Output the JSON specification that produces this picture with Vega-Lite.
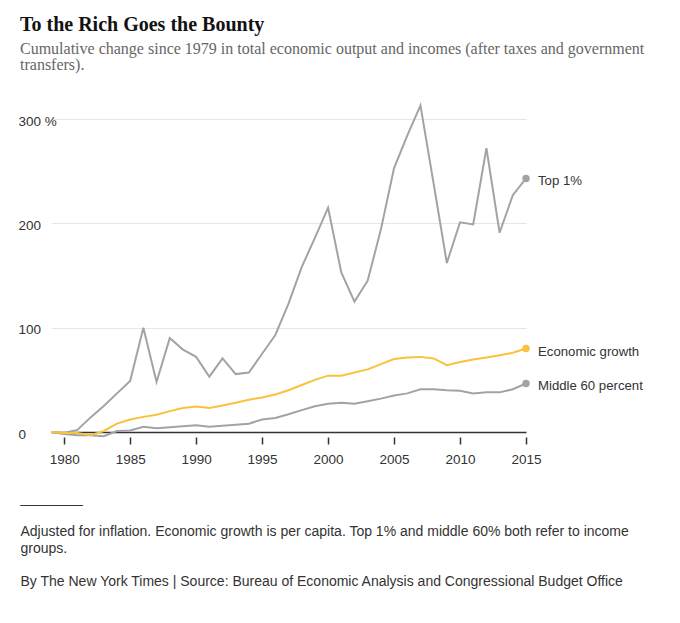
{
  "$schema": "https://vega.github.io/schema/vega-lite/v6.json",
  "width": 475,
  "height": 313,
  "autosize": {"type": "none"},
  "padding": {"left": 51, "top": 119, "right": 154, "bottom": 191},
  "background": "white",
  "title": {
    "text": "To the Rich Goes the Bounty",
    "subtitle": ["Cumulative change since 1979 in total economic output and incomes (after taxes and government", "transfers)."],
    "anchor": "start",
    "frame": "group",
    "dx": -31,
    "offset": 28,
    "font": "Liberation Serif",
    "fontSize": 20,
    "fontWeight": "bold",
    "color": "#121212",
    "subtitleFont": "Liberation Serif",
    "subtitleFontSize": 16,
    "subtitleColor": "#666666",
    "subtitleLineHeight": 16.6,
    "subtitlePadding": 6
  },
  "config": {
    "view": {"stroke": null},
    "text": {"font": "Liberation Sans"}
  },
  "data": {
    "values": [
      {"year": 1979, "Top 1%": 0, "Economic growth": 0, "Middle 60 percent": 0},
      {"year": 1980, "Top 1%": -1, "Economic growth": -1, "Middle 60 percent": -2},
      {"year": 1981, "Top 1%": 2, "Economic growth": -1, "Middle 60 percent": -3},
      {"year": 1982, "Top 1%": 14, "Economic growth": -3, "Middle 60 percent": -3},
      {"year": 1983, "Top 1%": 25, "Economic growth": 1, "Middle 60 percent": -4},
      {"year": 1984, "Top 1%": 37, "Economic growth": 8, "Middle 60 percent": 1},
      {"year": 1985, "Top 1%": 49, "Economic growth": 12, "Middle 60 percent": 1.5},
      {"year": 1986, "Top 1%": 100, "Economic growth": 14.5, "Middle 60 percent": 5},
      {"year": 1987, "Top 1%": 48, "Economic growth": 16.5, "Middle 60 percent": 3.5},
      {"year": 1988, "Top 1%": 90, "Economic growth": 20, "Middle 60 percent": 4.5},
      {"year": 1989, "Top 1%": 79, "Economic growth": 23, "Middle 60 percent": 5.5},
      {"year": 1990, "Top 1%": 72, "Economic growth": 24.5, "Middle 60 percent": 6.5},
      {"year": 1991, "Top 1%": 53, "Economic growth": 23, "Middle 60 percent": 5},
      {"year": 1992, "Top 1%": 70.5, "Economic growth": 25.5, "Middle 60 percent": 6},
      {"year": 1993, "Top 1%": 55.5, "Economic growth": 28, "Middle 60 percent": 7},
      {"year": 1994, "Top 1%": 57, "Economic growth": 31, "Middle 60 percent": 8},
      {"year": 1995, "Top 1%": 75, "Economic growth": 33, "Middle 60 percent": 12},
      {"year": 1996, "Top 1%": 93, "Economic growth": 36, "Middle 60 percent": 13.5},
      {"year": 1997, "Top 1%": 123, "Economic growth": 40, "Middle 60 percent": 17},
      {"year": 1998, "Top 1%": 158, "Economic growth": 45, "Middle 60 percent": 21},
      {"year": 1999, "Top 1%": 186, "Economic growth": 50, "Middle 60 percent": 24.7},
      {"year": 2000, "Top 1%": 215, "Economic growth": 54, "Middle 60 percent": 27},
      {"year": 2001, "Top 1%": 153, "Economic growth": 54, "Middle 60 percent": 28},
      {"year": 2002, "Top 1%": 125, "Economic growth": 57, "Middle 60 percent": 27},
      {"year": 2003, "Top 1%": 145, "Economic growth": 60, "Middle 60 percent": 29.5},
      {"year": 2004, "Top 1%": 194, "Economic growth": 65, "Middle 60 percent": 32},
      {"year": 2005, "Top 1%": 253, "Economic growth": 70, "Middle 60 percent": 35},
      {"year": 2006, "Top 1%": 284, "Economic growth": 71.5, "Middle 60 percent": 37},
      {"year": 2007, "Top 1%": 313, "Economic growth": 72, "Middle 60 percent": 41},
      {"year": 2008, "Top 1%": 238, "Economic growth": 70.5, "Middle 60 percent": 41},
      {"year": 2009, "Top 1%": 162, "Economic growth": 64, "Middle 60 percent": 40},
      {"year": 2010, "Top 1%": 201, "Economic growth": 67, "Middle 60 percent": 39.5},
      {"year": 2011, "Top 1%": 199, "Economic growth": 69.5, "Middle 60 percent": 37},
      {"year": 2012, "Top 1%": 272, "Economic growth": 71.5, "Middle 60 percent": 38},
      {"year": 2013, "Top 1%": 191, "Economic growth": 73.5, "Middle 60 percent": 38},
      {"year": 2014, "Top 1%": 227, "Economic growth": 76, "Middle 60 percent": 41},
      {"year": 2015, "Top 1%": 243, "Economic growth": 80, "Middle 60 percent": 46.5}
    ]
  },
  "transform": [
    {"fold": ["Top 1%", "Middle 60 percent", "Economic growth"], "as": ["series", "value"]}
  ],
  "encoding": {
    "x": {
      "field": "year",
      "type": "quantitative",
      "scale": {"domain": [1979, 2015], "nice": false, "zero": false},
      "axis": {
        "values": [1980, 1985, 1990, 1995, 2000, 2005, 2010, 2015],
        "format": "d",
        "grid": false,
        "domain": false,
        "ticks": true,
        "tickSize": 7,
        "tickWidth": 1.5,
        "tickColor": "#333333",
        "offset": 5,
        "labelPadding": 8,
        "labelFont": "Liberation Sans",
        "labelFontSize": 13.5,
        "labelColor": "#333333",
        "labelFlush": false,
        "title": ["________", "\u200b", "Adjusted for inflation. Economic growth is per capita. Top 1% and middle 60% both refer to income", "groups.", "\u200b", "By The New York Times | Source: Bureau of Economic Analysis and Congressional Budget Office"],
        "titleFont": "Liberation Sans",
        "titleFontSize": 14,
        "titleFontWeight": "normal",
        "titleColor": "#333333",
        "titleAnchor": "start",
        "titleAlign": "left",
        "titleBaseline": "alphabetic",
        "titleX": -31,
        "titleY": 65,
        "titleLineHeight": 16.7,
        "titleLimit": 700
      }
    },
    "y": {
      "field": "value",
      "type": "quantitative",
      "scale": {"domain": [0, 300], "nice": false, "zero": false},
      "axis": {
        "values": [0, 100, 200, 300],
        "labelExpr": "datum.value === 300 ? '300 %' : (datum.value === 0 ? '\u2007\u20070' : datum.label)",
        "domain": false,
        "ticks": false,
        "tickSize": 0,
        "grid": true,
        "gridColor": {"condition": {"test": "datum.value === 0", "value": "#333333"}, "value": "#e6e6e6"},
        "gridWidth": {"condition": {"test": "datum.value === 0", "value": 1.5}, "value": 1},
        "labelAlign": "left",
        "labelBaseline": "middle",
        "labelPadding": 33,
        "labelOffset": 2,
        "labelFont": "Liberation Sans",
        "labelFontSize": 13.5,
        "labelColor": "#333333",
        "title": null
      }
    },
    "color": {
      "field": "series",
      "type": "nominal",
      "scale": {"domain": ["Top 1%", "Middle 60 percent", "Economic growth"], "range": ["#a3a3a3", "#a3a3a3", "#f8c23c"]},
      "legend": null
    }
  },
  "layer": [
    {"mark": {"type": "line", "strokeWidth": 2}},
    {
      "transform": [{"filter": "datum.year === 2015"}],
      "mark": {"type": "point", "filled": true, "size": 55, "opacity": 1}
    },
    {
      "transform": [{"filter": "datum.year === 2015"}],
      "mark": {"type": "text", "align": "left", "baseline": "middle", "dx": 12, "dy": 3, "fontSize": 13.2, "fill": "#333333"},
      "encoding": {"text": {"field": "series"}, "color": {"value": "#333333"}}
    }
  ]
}
